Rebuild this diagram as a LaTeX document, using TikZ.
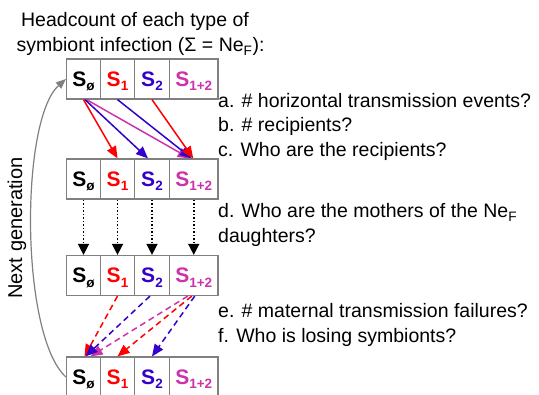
\documentclass[tikz,border=0pt]{standalone}
\usepackage{fontspec}
\setmainfont{Liberation Sans}
\usetikzlibrary{arrows.meta}
\definecolor{cred}{RGB}{255,0,0}
\definecolor{cblue}{RGB}{51,0,204}
\definecolor{cmag}{RGB}{204,51,170}
\definecolor{cgray}{RGB}{128,128,128}
\newcommand{\Ssub}[1]{\textbf{S}\raisebox{-4.5pt}{\fontsize{13.5}{13.5}\selectfont\bfseries #1}}
\begin{document}
\begin{tikzpicture}[x=1pt,y=-1pt,
  cell/.style={draw=cgray,line width=1.2pt,minimum height=40pt,inner sep=0pt,
     text height=15pt,text depth=0pt,font=\fontsize{21}{21}\selectfont},
  w0/.style={minimum width=34pt},
  w1/.style={minimum width=34pt},
  w2/.style={minimum width=35pt},
  w3/.style={minimum width=48.5pt},
  txt/.style={font=\fontsize{19.5}{24}\selectfont,inner sep=0pt},
  tip/.style={-{Triangle[length=12pt,width=10pt]}},
  harrow/.style={line width=1.5pt,tip},
  dotarrow/.style={line width=1.5pt,dash pattern=on 1.5pt off 2pt,-{Triangle[length=11pt,width=11pt]}},
  dasharrow/.style={line width=1.5pt,dash pattern=on 6pt off 4pt,tip},
]
\useasboundingbox (0,0) rectangle (539,395);
\fill[white] (0,0) rectangle (539,395);

% rows of cells
\foreach \r/\y in {1/79,2/179,3/275.5,4/377}{
  \node[cell,w0] (r\r c0) at (83.5,\y) {\Ssub{ø}};
  \node[cell,w1,text=cred] (r\r c1) at (117.5,\y) {\Ssub{1}};
  \node[cell,w2,text=cblue] (r\r c2) at (152,\y) {\Ssub{2}};
  \node[cell,w3,text=cmag] (r\r c3) at (193.75,\y) {\Ssub{1+2}};
}

% header text
\node[txt,anchor=base] (h1) at (135,27) {Headcount of each type of};
\node[txt,anchor=base] (h2) at (140.5,52) {symbiont infection (Σ = Ne\textsubscript{F}):};

% questions
\node[txt,anchor=base west] (qa) at (218,108) {a. \# horizontal transmission events?};
\node[txt,anchor=base west] (qb) at (218,132) {b. \# recipients?};
\node[txt,anchor=base west] (qc) at (218,157) {c. Who are the recipients?};
\node[txt,anchor=base west] (qd) at (218,218) {d. Who are the mothers of the Ne\textsubscript{F}};
\node[txt,anchor=base west] (qd2) at (218,243) {daughters?};
\node[txt,anchor=base west] (qe) at (218,318) {e. \# maternal transmission failures?};
\node[txt,anchor=base west] (qf) at (218,343) {f. Who is losing symbionts?};

% next generation
\node[txt,rotate=90,font=\fontsize{20}{24}\selectfont] (ng) at (17,228) {Next generation};
\draw[cgray,line width=1.2pt,-{Triangle[length=10pt,width=8pt]}] (r4c0.west) .. controls (20,335) and (20,120) .. (r1c0.west);

% horizontal transmission
\draw[harrow,cmag] ([xshift=3pt]r1c0.south) -- ([xshift=-4pt]r2c3.north);
\draw[harrow,cblue] ([xshift=1.5pt]r1c0.south) -- ([xshift=-4pt]r2c2.north);
\draw[harrow,cblue] (r1c1.south) -- ([xshift=-2pt]r2c3.north);
\draw[harrow,cred] (r1c0.south) -- (r2c1.north);
\draw[harrow,cred] (r1c2.south) -- ([xshift=-0.5pt]r2c3.north);

% mothers
\foreach \c in {0,1,2,3}{
  \draw[dotarrow] (r2c\c.south) -- (r3c\c.north);
}

% maternal transmission failures
\draw[dasharrow,cred] (r3c1.south) -- ([xshift=1pt]r4c0.north);
\draw[dasharrow,cmag] ([xshift=-6pt]r3c3.south) -- ([xshift=7pt]r4c0.north);
\draw[dasharrow,cred] ([xshift=-2pt]r3c3.south) -- (r4c1.north);
\draw[dasharrow,cblue] ([xshift=-2pt]r3c2.south) -- ([xshift=2pt]r4c0.north);
\draw[dasharrow,cblue] ([xshift=1pt]r3c3.south) -- (r4c2.north);
\end{tikzpicture}
\end{document}
